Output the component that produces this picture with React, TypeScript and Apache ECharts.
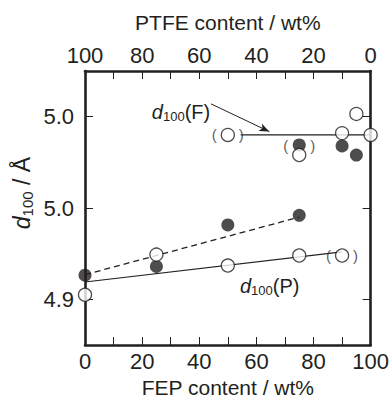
import React, { useEffect, useRef } from "react";
import * as echarts from "echarts";

// ---- data ----
const fepTicks = [0, 10, 20, 30, 40, 50, 60, 70, 80, 90, 100];
const fepLabels = [0, 20, 40, 60, 80, 100];
const ptfeTicks = [0, 10, 20, 30, 40, 50, 60, 70, 80, 90, 100];
const ptfeLabels = [0, 20, 40, 60, 80, 100];
const yTicks = [4.9, 5.0, 5.1];
const yTickLabels = ["4.9", "5.0", "5.0"];

const openP = [[0, 4.905], [25, 4.949], [50, 4.937], [75, 4.948], [90, 4.948]];
const filledLow = [[0, 4.9265], [25, 4.936], [50, 4.9815], [75, 4.992]];
const openF = [[50, 5.08], [75, 5.058], [90, 5.082], [95, 5.103], [100, 5.08]];
const filledF = [[75, 5.069], [90, 5.068], [95, 5.058]];
const fitP = [[0, 4.919], [90, 4.952]];
const fitDashed = [[0, 4.927], [75, 4.99]];
const fitF = [[54.5, 5.08], [100, 5.08]];
const parenPoints = [[50, 5.08], [75, 5.068], [90, 4.948]];

const INK = "#231f20";
const FONT = "'Liberation Sans', Arial, Helvetica, sans-serif";

export default function App() {
  const ref = useRef<HTMLDivElement>(null);
  useEffect(() => {
    if (!ref.current) return;
    const chart = echarts.init(ref.current, null, { renderer: "svg" });
    const axisLine = { show: true, lineStyle: { color: INK, width: 2.6 } };
    const tick = { inside: true, length: 8, lineStyle: { color: INK, width: 1 } };
    const labelStyle = { color: INK, fontSize: 22, fontFamily: FONT };
    const markerBase = { symbol: "circle", symbolSize: 13 };
    const parenLabel = {
      show: true, position: "inside", fontSize: 15, color: "#333333", fontFamily: FONT,
      textBorderWidth: 0, textBorderColor: "transparent",
    };
    chart.setOption({
      animation: false,
      textStyle: { fontFamily: FONT },
      grid: { left: 85, right: 20.5, top: 71, bottom: 55.5 },
      xAxis: [
        {
          type: "value", position: "bottom", min: 0, max: 100,
          axisLine, splitLine: { show: false },
          axisTick: { ...tick, customValues: fepTicks },
          axisLabel: { ...labelStyle, margin: 5, customValues: fepLabels },
          name: "FEP content / wt%", nameLocation: "middle", nameGap: 32,
          nameTextStyle: { color: INK, fontSize: 21, fontFamily: FONT },
        },
        {
          type: "value", position: "top", min: 0, max: 100, inverse: true,
          axisLine, splitLine: { show: false },
          axisTick: { ...tick, customValues: ptfeTicks },
          axisLabel: { ...labelStyle, margin: 5, customValues: ptfeLabels },
          name: "PTFE content / wt%", nameLocation: "middle", nameGap: 38,
          nameTextStyle: { color: INK, fontSize: 21, fontFamily: FONT },
        },
      ],
      yAxis: [
        {
          type: "value", position: "left", min: 4.85, max: 5.15,
          axisLine, splitLine: { show: false },
          axisTick: { ...tick, customValues: yTicks },
          axisLabel: {
            ...labelStyle, margin: 11, customValues: yTicks,
            formatter: (v: number) => {
              const i = yTicks.findIndex((t) => Math.abs(t - v) < 1e-6);
              return i >= 0 ? yTickLabels[i] : "";
            },
          },
        },
        {
          type: "value", position: "right", min: 4.85, max: 5.15,
          axisLine, splitLine: { show: false },
          axisTick: { ...tick, customValues: yTicks },
          axisLabel: { show: false },
        },
      ],
      series: [
        {
          type: "line", data: fitP, symbol: "none", z: 2,
          lineStyle: { color: INK, width: 1.2 },
        },
        {
          type: "line", data: fitDashed, symbol: "none", z: 2,
          lineStyle: { color: INK, width: 1.3, type: [6, 4] },
        },
        {
          type: "line", data: fitF, symbol: "none", z: 2,
          lineStyle: { color: INK, width: 1.2 },
          markLine: {
            silent: true, symbol: ["none", "arrow"], symbolSize: [6, 10],
            label: { show: false },
            lineStyle: { color: INK, width: 1, type: "solid" },
            data: [[{ coord: [44.1, 5.114] }, { coord: [64.5, 5.0837] }]],
          },
        },
        {
          type: "scatter", data: filledLow, ...markerBase, z: 3,
          itemStyle: { color: INK },
        },
        {
          type: "scatter", data: filledF, ...markerBase, z: 3,
          itemStyle: { color: INK },
        },
        {
          type: "scatter", data: openP, ...markerBase, z: 4,
          itemStyle: { color: "#fff", borderColor: INK, borderWidth: 1.3 },
        },
        {
          type: "scatter", data: openF, ...markerBase, z: 4,
          itemStyle: { color: "#fff", borderColor: INK, borderWidth: 1.3 },
        },
        {
          type: "scatter", data: parenPoints, symbolSize: 2, z: 5, silent: true,
          itemStyle: { color: "rgba(0,0,0,0)" },
          label: { ...parenLabel, formatter: "(", offset: [-13.5, 0] },
        },
        {
          type: "scatter", data: parenPoints, symbolSize: 2, z: 5, silent: true,
          itemStyle: { color: "rgba(0,0,0,0)" },
          label: { ...parenLabel, formatter: ")", offset: [13.5, 0] },
        },
      ],
      graphic: [
        {
          type: "text", x: 22, y: 193, rotation: Math.PI / 2,
          style: {
            text: "{i|d}{s|100}{n| / Å}",
            align: "center", verticalAlign: "middle",
            rich: {
              i: { fontSize: 23, fontStyle: "italic", fontFamily: FONT, fill: INK },
              s: { fontSize: 15, fontFamily: FONT, fill: INK, padding: [11, 0, 0, 0] },
              n: { fontSize: 23, fontFamily: FONT, fill: INK },
            },
          },
        },
        {
          type: "text", x: 181, y: 112,
          style: {
            text: "{i|d}{s|100}{n|(F)}",
            align: "center", verticalAlign: "middle",
            rich: {
              i: { fontSize: 20, fontStyle: "italic", fontFamily: FONT, fill: INK },
              s: { fontSize: 13, fontFamily: FONT, fill: INK, padding: [9, 0, 0, 0] },
              n: { fontSize: 20, fontFamily: FONT, fill: INK },
            },
          },
        },
        {
          type: "text", x: 269.7, y: 286,
          style: {
            text: "{i|d}{s|100}{n|(P)}",
            align: "center", verticalAlign: "middle",
            rich: {
              i: { fontSize: 20, fontStyle: "italic", fontFamily: FONT, fill: INK },
              s: { fontSize: 13, fontFamily: FONT, fill: INK, padding: [9, 0, 0, 0] },
              n: { fontSize: 20, fontFamily: FONT, fill: INK },
            },
          },
        },
      ],
    });
    return () => chart.dispose();
  }, []);
  return (
    <div
      ref={ref}
      style={{ position: "fixed", left: 0, top: 0, width: 392, height: 403, background: "#fff" }}
    />
  );
}
